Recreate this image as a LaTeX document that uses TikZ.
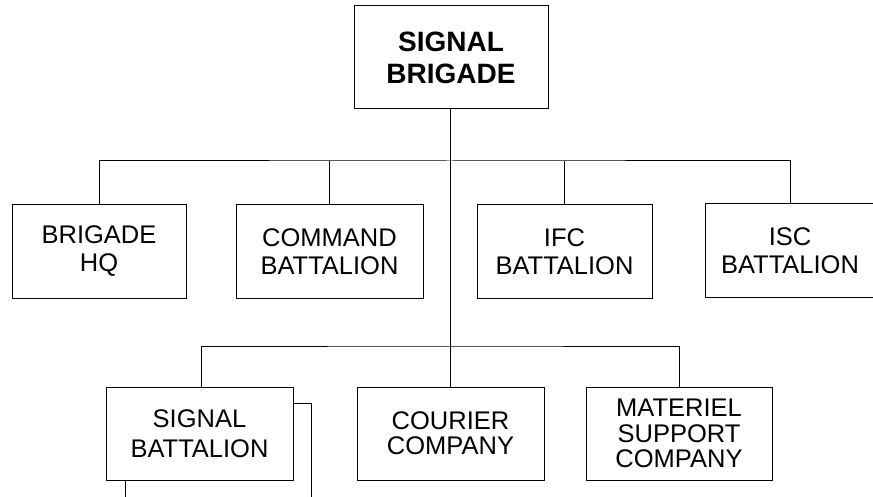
\documentclass[tikz,border=0pt]{standalone}
\usepackage{fontspec}
\setmainfont{Liberation Sans}
\begin{document}
\begin{tikzpicture}[x=1pt,y=-1pt,
  every path/.style={line width=1pt},
  unit/.style={draw, line width=1pt, align=center, inner sep=0pt,
    minimum height=93pt, font=\fontsize{25.5}{28}\selectfont},
  toptext/.style={font=\fontsize{28}{32}\selectfont\bfseries}]
\useasboundingbox (0,0) rectangle (873,497);
% nodes
\node[unit, minimum width=194pt, minimum height=103pt, toptext] (top) at (451,57.5) {SIGNAL\\BRIGADE};
\node[unit, minimum width=174pt] (hq)  at (99,251.5)  {BRIGADE\\HQ};
\node[unit, minimum width=187pt] (cmd) at (329.5,251.5) {COMMAND\\BATTALION};
\node[unit, minimum width=175pt] (ifc) at (564.5,251.5) {IFC\\BATTALION};
\node[unit, minimum width=170pt] (isc) at (790,250.5) {ISC\\BATTALION};
\node[unit, minimum width=187pt, font=\fontsize{25.5}{30}\selectfont] (sigbn) at (199.5,433.5) {SIGNAL\\BATTALION};
\node[unit, minimum width=187pt, font=\fontsize{25.5}{25}\selectfont] (cour) at (450.5,433.5) {COURIER\\COMPANY};
\node[unit, minimum width=186pt, font=\fontsize{25.5}{25.5}\selectfont] (mat) at (679,433.5) {MATERIEL\\SUPPORT\\COMPANY};
% junctions
\coordinate (j1) at (450,161);
\coordinate (j2) at (450,346);
\coordinate (s1) at (311,510);
% connectors
\draw (top.south -| j1) -- (j2);
\draw (hq.north) |- (j1) -| (isc.north);
\draw (cmd.north) -- (cmd.north |- j1);
\draw (ifc.north) -- (ifc.north |- j1);
\draw ([xshift=1.5pt]sigbn.north) |- (j2) -| (mat.north);
\draw (cour.north -| j2) -- (j2);
% stacked battalion edges
\draw ([yshift=-17pt]sigbn.north east) -| (s1);
\draw ([xshift=20pt]sigbn.south west) -- ++(0,25);
\end{tikzpicture}
\end{document}
